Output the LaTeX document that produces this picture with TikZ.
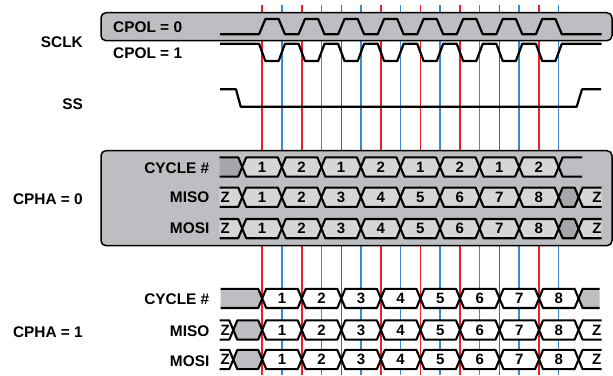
\documentclass[tikz,border=0pt]{standalone}
\usepackage{fontspec}
\setmainfont{Liberation Sans}
\definecolor{boxgray}{RGB}{189,190,194}
\definecolor{darkgraytwo}{RGB}{165,166,169}
\definecolor{cellgray}{RGB}{214,214,216}
\definecolor{myred}{RGB}{236,32,40}
\definecolor{myblue}{RGB}{58,140,206}
\newcommand\mycellh{9.6}
\newcommand\myhex[6]{%
  \draw[cellln,fill=#4] (#1,#3) -- ({#1+4},{#3-\mycellh}) -- ({#2-4},{#3-\mycellh}) -- (#2,#3) -- ({#2-4},{#3+\mycellh}) -- ({#1+4},{#3+\mycellh}) -- cycle;
  \node[dig] (#6) at ({(#1+#2)/2},{#3+5.3}) {#5};}
\newcommand\myopenl[4]{%
  \path[#4] (#1,{#3-\mycellh}) -- ({#2-4},{#3-\mycellh}) -- (#2,#3) -- ({#2-4},{#3+\mycellh}) -- (#1,{#3+\mycellh}) -- cycle;
  \draw[cellln] (#1,{#3-\mycellh}) -- ({#2-4},{#3-\mycellh}) -- (#2,#3) -- ({#2-4},{#3+\mycellh}) -- (#1,{#3+\mycellh});}
\newcommand\myopenr[4]{%
  \path[#4] (#2,{#3-\mycellh}) -- ({#1+4},{#3-\mycellh}) -- (#1,#3) -- ({#1+4},{#3+\mycellh}) -- (#2,{#3+\mycellh}) -- cycle;
  \draw[cellln] (#2,{#3-\mycellh}) -- ({#1+4},{#3-\mycellh}) -- (#1,#3) -- ({#1+4},{#3+\mycellh}) -- (#2,{#3+\mycellh});}
\begin{document}
\begin{tikzpicture}[x=1pt,y=-1pt,
  lbl/.style={font=\fontsize{15.4}{18}\selectfont\bfseries,inner sep=0pt},
  dig/.style={font=\fontsize{15}{17}\selectfont\bfseries,inner sep=0pt,anchor=base},
  zt/.style={font=\fontsize{15}{17}\selectfont\bfseries,inner sep=0pt},
  wave/.style={line width=2.2pt,line join=round},
  cellln/.style={line width=2.1pt,line join=round},
  redln/.style={draw=myred,line width=1.5pt},
  blueln/.style={draw=myblue,line width=1.5pt},
  panel/.style={draw=black,line width=1.5pt,fill=boxgray,rounded corners=5pt}]
\useasboundingbox (0,0) rectangle (613,375);
% clock edge lines
\foreach \k in {0,...,7}{
  \pgfmathsetmacro\xr{262.2+39.55*\k}
  \pgfmathsetmacro\xbl{\xr+19.6}
  \draw[redln] (\xr,5) -- (\xr,375);
  \draw[blueln] (\xbl,5) -- (\xbl,375);
}
% panels
\draw[panel] (101,12.7) rectangle (612,40.7);
\draw[panel] (101,150.7) rectangle (612,245.7);
% labels
\node[lbl,anchor=base east] (sclk) at (83,47.6) {SCLK};
\node[lbl,anchor=base west] (cpol0) at (113,32.3) {CPOL = 0};
\node[lbl,anchor=base west] (cpol1) at (113,58.9) {CPOL = 1};
\node[lbl,anchor=base east] (ss) at (83,109.6) {SS};
\node[lbl,anchor=base east] (cpha0) at (83,204.6) {CPHA = 0};
\node[lbl,anchor=base east] (cpha1) at (83,337.2) {CPHA = 1};
\node[lbl,anchor=base east] (cyc0) at (209.5,173.2) {CYCLE \#};
\node[lbl,anchor=base east] (miso0) at (209.5,202.9) {MISO};
\node[lbl,anchor=base east] (mosi0) at (209.5,233.9) {MOSI};
\node[lbl,anchor=base east] (cyc1) at (209.5,304.7) {CYCLE \#};
\node[lbl,anchor=base east] (miso1) at (209.5,336.2) {MISO};
\node[lbl,anchor=base east] (mosi1) at (209.5,366.2) {MOSI};
% SCLK waveforms
\draw[wave] (220,34.3) \foreach \k in {0,...,7}{ -- ({262.2+39.55*\k-3.2},34.3) -- ({262.2+39.55*\k+3.2},19) -- ({281.8+39.55*\k-3.2},19) -- ({281.8+39.55*\k+3.2},34.3)} -- (601.7,34.3);
\draw[wave] (220,43.7) \foreach \k in {0,...,7}{ -- ({262.2+39.55*\k-3.2},43.7) -- ({262.2+39.55*\k+3.2},61) -- ({281.8+39.55*\k-3.2},61) -- ({281.8+39.55*\k+3.2},43.7)} -- (601.7,43.7);
% SS
\draw[wave] (220,89.3) -- (236,89.3) -- (240.7,106.7) -- (576.7,106.7) -- (582,89.3) -- (601,89.3);
% ---- CPHA = 0 ----
\myopenl{219.5}{242.25}{167}{fill=darkgraytwo}
\foreach \k/\t in {0/1,1/2,2/1,3/2,4/1,5/2,6/1,7/2}{
  \pgfmathsetmacro\xa{242.25+39.55*\k}
  \pgfmathsetmacro\xb{\xa+39.55}
  \myhex{\xa}{\xb}{167}{cellgray}{\t}{ca\k}
}
\myopenr{558.65}{582}{167}{}
\foreach \yc/\nm in {197.2/ma,228.6/oa}{
  \myopenl{219.5}{242.25}{\yc}{fill=cellgray}
  \node[zt,anchor=base west] (\nm z1) at (220.3,\yc+5.3) {Z};
  \foreach \k in {0,...,7}{
    \pgfmathsetmacro\xa{242.25+39.55*\k}
    \pgfmathsetmacro\xb{\xa+39.55}
    \pgfmathtruncatemacro\t{\k+1}
    \myhex{\xa}{\xb}{\yc}{cellgray}{\t}{\nm\k}
  }
  \myhex{558.65}{578.6}{\yc}{darkgraytwo}{}{\nm u}
  \myopenr{578.6}{601.7}{\yc}{fill=cellgray}
  \node[zt,anchor=base east] (\nm z2) at (601.7,\yc+5.3) {Z};
}
% ---- CPHA = 1 ----
\myopenl{220.5}{262.2}{298.4}{fill=boxgray}
\foreach \k in {0,...,7}{
  \pgfmathsetmacro\xa{262.2+39.55*\k}
  \pgfmathsetmacro\xb{\xa+39.55}
  \pgfmathtruncatemacro\t{\k+1}
  \myhex{\xa}{\xb}{298.4}{white}{\t}{cb\k}
}
\myopenr{578.6}{599.5}{298.4}{fill=boxgray}
\foreach \yc/\nm in {330/mb,359.5/ob}{
  \myopenl{219.5}{233.3}{\yc}{fill=white}
  \node[zt,anchor=base west] (\nm z1) at (220.3,\yc+5.3) {Z};
  \myhex{233.3}{262.2}{\yc}{boxgray}{}{\nm u}
  \foreach \k in {0,...,7}{
    \pgfmathsetmacro\xa{262.2+39.55*\k}
    \pgfmathsetmacro\xb{\xa+39.55}
    \pgfmathtruncatemacro\t{\k+1}
    \myhex{\xa}{\xb}{\yc}{white}{\t}{\nm\k}
  }
  \myopenr{578.6}{601.5}{\yc}{fill=white}
  \node[zt,anchor=base east] (\nm z2) at (601.5,\yc+5.3) {Z};
}
\end{tikzpicture}
\end{document}
